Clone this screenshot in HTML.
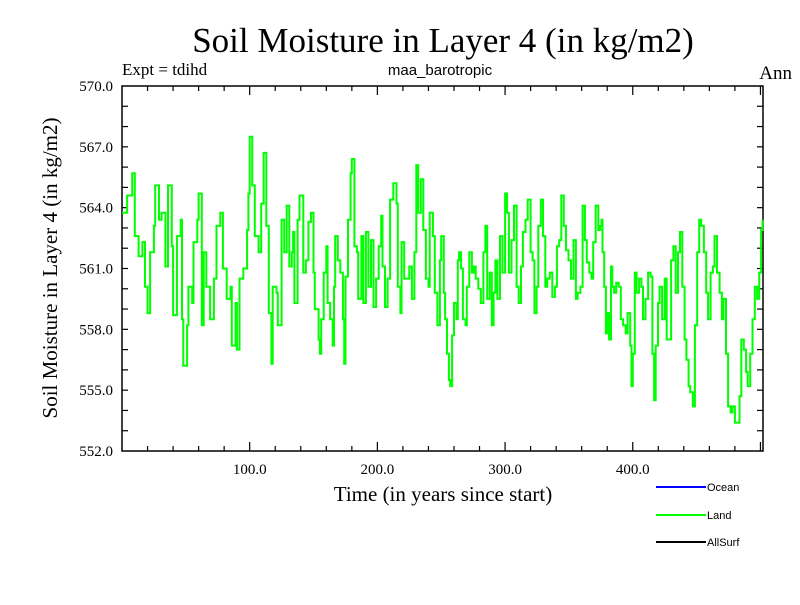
<!DOCTYPE html>
<html><head><meta charset="utf-8"><style>
body{margin:0;background:#fff;}
svg text{font-family:"Liberation Serif",serif;}
</style></head><body>
<svg id="chart" width="800" height="600" xmlns="http://www.w3.org/2000/svg">
<rect width="800" height="600" fill="#fff"/>
<text x="443" y="52" font-size="35" text-anchor="middle">Soil Moisture in Layer 4 (in kg/m2)</text>
<text x="122" y="75" font-size="17">Expt = tdihd</text>
<text x="440" y="75" font-size="15" text-anchor="middle" style="font-family:'Liberation Sans',sans-serif">maa_barotropic</text>
<text x="792" y="79" font-size="19" text-anchor="end">Ann</text>
<text transform="translate(57,268) rotate(-90)" font-size="21" text-anchor="middle">Soil Moisture in Layer 4 (in kg/m2)</text>
<text x="443" y="501" font-size="21" text-anchor="middle">Time (in years since start)</text>
<g id="axes"></g>
<g id="series"></g>
<g>
<g><line x1="656" y1="487" x2="706" y2="487" stroke="#0000ff" stroke-width="2"/><text x="707" y="491" style="font-family:'Liberation Sans',sans-serif" font-size="11">Ocean</text></g>
<g><line x1="656" y1="515" x2="706" y2="515" stroke="#00ff00" stroke-width="2"/><text x="707" y="519" style="font-family:'Liberation Sans',sans-serif" font-size="11">Land</text></g>
<g><line x1="656" y1="542" x2="706" y2="542" stroke="#000" stroke-width="2"/><text x="707" y="546" style="font-family:'Liberation Sans',sans-serif" font-size="11">AllSurf</text></g>
</g>
</svg>
<script>
const years = [0,4,8,10,13,16,18,20,22,25,26,29,31,34,36,39,40,43,46,47,48,51,52,55,56,59,60,62.5,64,66,69,72,74,77,79,82,85,86,89,90,92,95,98,99,100,102,104,107,109,111,113,115,117,118,121,122,
125,127,129,131,133,134,135,137.5,139,142,144,146,148,150,151,154,155,156,158,160,161,163,165,166,167,169,171,173,174,175,177,179,180,182,184,185,187.5,189,191,193,195,197,199,201,203,204,206,208,210,212.5,215,216,218,219,221,223,225,227,229,230.5,232,234,236,238,240,241,243.5,245,247,249,
250,252,253,254.5,256,257,258.5,260,262,263,264,265.6,267,269,270,272,274,275.5,277,279,281,283,284.6,286,288,289.6,291,292.4,294,296,298,300,301.6,303,305,307,309,310.7,312.5,314,316,317.7,320,321.6,323,324.7,326,328,329.7,331.5,333,335,337,339,340.6,342.4,344,346,347.7,349.7,351.6,353.6,355.5,356.8,359,360.7,362.5,364,366,367.7,369,371,373,374.5,
375.5,376.3,377.6,379,380,381.5,383,384,385.4,387,389,390.6,392.4,394.5,396,398,399,400,401.6,403,405,406.8,408,410,412,414,415.4,416.7,418,419.8,421,423,425,426.6,428,430,431.8,433.6,435.4,437,438.8,440.6,442,443.75,445,447,448.7,450.5,452,453.6,455.7,457.5,459,461,462.8,464,466,468,469.8,471,473,474.7,476.6,478,480,481.8,483.6,485,487,488.8,490,492,493.75,495.6,497.4,499,500.5,501.6];
const landValues = [563.75,564.6,565.7,562.6,561.6,562.3,560.1,558.8,561.8,563.1,565.1,563.4,563.75,561.1,565.1,562.1,558.7,562.6,563.4,558.5,556.2,558.2,560.1,559.3,562.3,563.4,564.7,558.2,561.8,560.1,558.5,560.5,563.1,563.75,561,559.5,560.1,557.2,559.3,557,560.5,561,562.9,564.7,567.5,565.1,562.6,561.8,564.2,566.7,563.1,558.8,556.3,560.1,559.8,558.2,
563.4,561.8,564.1,561.1,561.8,562.8,559.3,563.4,564.6,560.8,561.4,563.3,563.75,560.8,559,557.5,556.8,558.5,560.8,562.1,559.3,558.5,557.2,560.1,562.6,561.4,560.8,558.5,556.3,560.6,563.4,565.7,566.4,562.1,561.8,559.5,562.6,559.3,562.8,560.1,562.4,559.1,560.5,562.1,563.6,561.1,559.1,560.5,564.4,565.2,564.2,560.1,558.8,562.3,560.5,560.5,561.1,559.5,561.8,566.1,563.75,565.4,562.9,560.5,560.1,563.75,562.6,559.8,558.2,561.4,
562.6,559.8,558.5,556.8,555.5,555.2,557.7,559.3,558.5,561.4,561.8,561,558.5,558.2,560.1,561.8,560.8,561.1,560.5,560,559.3,561.8,563.1,559.5,560.8,558.2,559.8,561.4,559.5,562.6,560.8,564.7,563.75,560.8,562.4,564.1,560.1,559.3,561.1,562.8,563.4,564.4,561.8,561.4,558.8,560.1,563.1,564.4,562.6,560.1,560.5,560.8,559.6,560.1,562.1,562.4,564.6,563.1,561.9,561.4,560.5,562.4,559.5,559.8,560.1,564.1,562.4,561.3,560.8,560.5,562.3,564.1,562.9,563.1,
563.4,561.8,560.1,557.8,558.8,557.5,561.1,560.1,559.8,560.3,560.1,558.5,558.2,557.8,558.8,557.2,555.2,556.8,560.8,559.8,560.5,560.1,558.5,559.5,560.8,560.6,556.8,554.5,557.2,559.3,560.1,558.5,560.5,557.5,557.5,561.4,562.1,559.8,561.8,562.8,560.1,557.5,556.5,555.2,554.9,554.2,558.2,561.8,563.4,563.1,561.8,559.8,558.5,560.8,561.1,562.6,560.8,559.8,558.5,559.5,556.8,554.2,553.9,554.2,553.4,553.4,554.7,557.5,557,555.9,555.2,556.8,558.5,560.1,559.5,560.8,562.9,563.4];
const yTickValues = [552,555,558,561,564,567,570];
const yTickLabels = ["552.0","555.0","558.0","561.0","564.0","567.0","570.0"];
const xTickValues = [100,200,300,400];
const xTickLabels = ["100.0","200.0","300.0","400.0"];

const L=122,R=763,T=86,B=451,X0=0,X1=502,Y0=552,Y1=570;
function xs(v){return L+(v-X0)/(X1-X0)*(R-L);}
function ys(v){return B-(v-Y0)/(Y1-Y0)*(B-T);}
const NS='http://www.w3.org/2000/svg';
function mk(tag,attrs,parent){const e=document.createElementNS(NS,tag);for(const k in attrs)e.setAttribute(k,attrs[k]);parent.appendChild(e);return e;}
const axes=document.getElementById('axes');
const series=document.getElementById('series');
for(let v=Y0+1;v<Y1;v++){
  const y=ys(v);
  const t1=mk('line',{x1:L,y1:y,x2:L+6,y2:y,stroke:'#000','stroke-width':1.2},axes);
  
  
  const t2=mk('line',{x1:R,y1:y,x2:R-6,y2:y,stroke:'#000','stroke-width':1.2},axes);
  
  
}
for(let v=20;v<X1;v+=20){
  const x=xs(v);const len=(v%100===0)?9:5;
  const t1=mk('line',{x1:x,y1:B,x2:x,y2:B-len,stroke:'#000','stroke-width':1.2},axes);
  
  
  const t2=mk('line',{x1:x,y1:T,x2:x,y2:T+len,stroke:'#000','stroke-width':1.2},axes);
  
  
}
yTickValues.forEach((v,i)=>{
  const t=mk('text',{x:113,y:ys(v)+5,'font-size':15,'text-anchor':'end'},axes);
  t.textContent=yTickLabels[i];
  
  
});
xTickValues.forEach((v,i)=>{
  const t=mk('text',{x:xs(v),y:474,'font-size':15,'text-anchor':'middle'},axes);
  t.textContent=xTickLabels[i];
  
  
});
const frame=mk('rect',{x:L,y:T,width:R-L,height:B-T,fill:'none',stroke:'#000','stroke-width':1.5},axes);


let d='';
for(let i=0;i<years.length;i++){
  const x=xs(years[i]).toFixed(1),y=ys(landValues[i]).toFixed(1);
  if(i===0)d+='M'+x+' '+y;else d+=' H'+x+' V'+y;
}
const p=mk('path',{d:d,fill:'none',stroke:'#00ff00','stroke-width':2},series);


</script>
</body></html>
